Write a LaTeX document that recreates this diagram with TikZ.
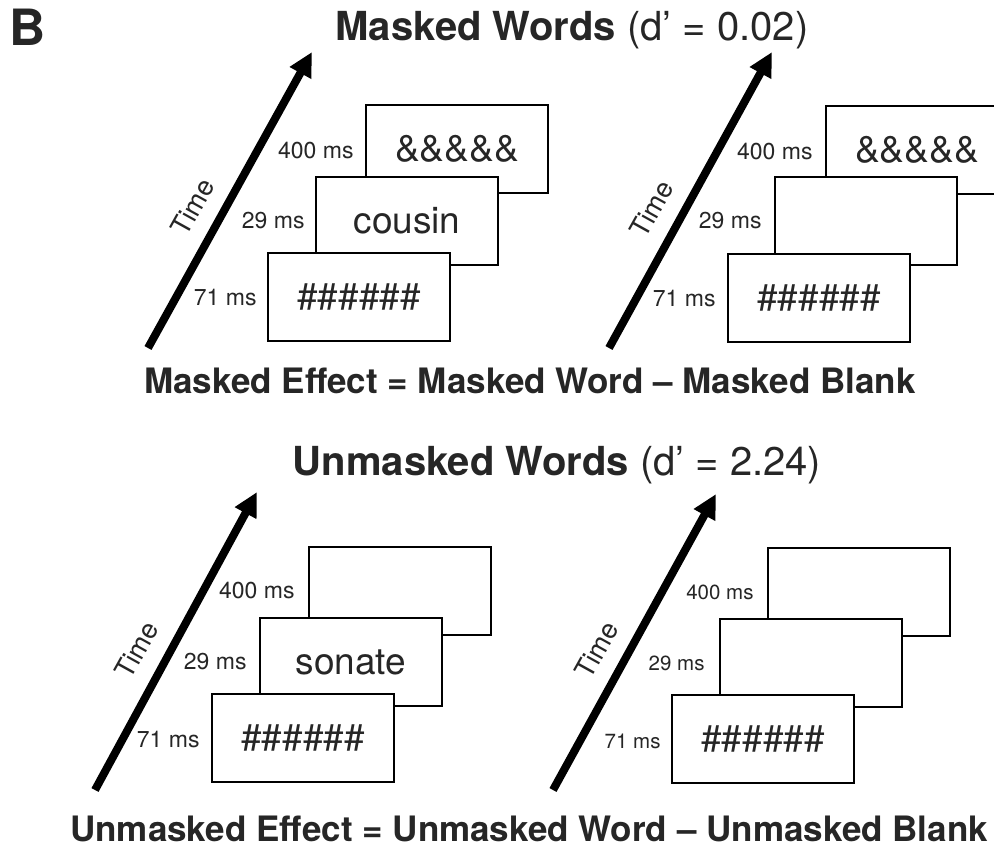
\documentclass[tikz,border=0pt]{standalone}
\usepackage{fontspec}
\setmainfont{TeX Gyre Heros}
\usetikzlibrary{arrows.meta}
\definecolor{txt}{HTML}{262626}
\begin{document}
\begin{tikzpicture}[x=1pt,y=-1pt,
  frame/.style={draw=black, fill=white, line width=2.6pt, minimum width=182pt, minimum height=88pt, inner sep=0pt, font=\fontsize{37}{40}\selectfont, text=txt},
  dur/.style={anchor=east, font=\fontsize{23}{26}\selectfont, text=txt, inner sep=0pt},
  durs/.style={dur, font=\fontsize{20.5}{23}\selectfont},
  timearrow/.style={line width=8pt, -{Triangle[length=24pt,width=23pt]}},
  timelbl/.style={rotate=61, font=\fontsize{27}{30}\selectfont, text=txt, inner sep=0pt},
  heading/.style={anchor=base, font=\fontsize{40}{48}\selectfont, text=txt, inner sep=0pt},
  effect/.style={anchor=base, font=\bfseries\fontsize{35}{42}\selectfont, text=txt, inner sep=0pt}]
\clip (0,0) rectangle (994,848);
\fill[white] (0,0) rectangle (994,848);

% panel letter and headings
\node[anchor=base west, font=\bfseries\fontsize{50}{56}\selectfont, text=txt, inner sep=0pt] (B) at (9,46) {B};
\node[heading] (t1) at (572,41) {\textbf{Masked Words} (d’ = 0.02)};
\node[effect] (e1) at (530,393) {Masked Effect = Masked Word – Masked Blank};
\node[heading] (t2) at (557,475) {\textbf{Unmasked Words} (d’ = 2.24)};
\node[effect] (e2) at (529,841) {Unmasked Effect = Unmasked Word – Unmasked Blank};

% ---------- top left ----------
\coordinate (s1) at (148,348); \coordinate (f1) at (312,52);
\draw[timearrow] (s1) -- (f1);
\node[timelbl] (tm1) at (193,207) {Time};
\node[frame] (a1) at (457,149) {\&\&\&\&\&};
\node[frame] (b1) at (407,221) {cousin};
\node[frame] (c1) at (359,297) {\#\#\#\#\#\#};
\node[dur] (la1) at ([xshift=-11pt,yshift=-2pt]a1.west) {400 ms};
\node[dur] (lb1) at ([xshift=-10pt]b1.west) {29 ms};
\node[dur] (lc1) at ([xshift=-10pt,yshift=-1pt]c1.west) {71 ms};

% ---------- top right ----------
\coordinate (s2) at (609,348); \coordinate (f2) at (772,52);
\draw[timearrow] (s2) -- (f2);
\node[timelbl] (tm2) at (652,209) {Time};
\node[frame] (a2) at (917,150) {\&\&\&\&\&};
\node[frame] (b2) at (866,221) {};
\node[frame] (c2) at (819,298) {\#\#\#\#\#\#};
\node[dur] (la2) at ([xshift=-12pt,yshift=-2pt]a2.west) {400 ms};
\node[dur] (lb2) at ([xshift=-12pt]b2.west) {29 ms};
\node[dur] (lc2) at ([xshift=-11pt,yshift=-1pt]c2.west) {71 ms};

% ---------- bottom left ----------
\coordinate (s3) at (95,790); \coordinate (f3) at (257,492);
\draw[timearrow] (s3) -- (f3);
\node[timelbl] (tm3) at (137,650) {Time};
\node[frame] (a3) at (400,591) {};
\node[frame] (b3) at (351,662) {sonate};
\node[frame] (c3) at (303,738) {\#\#\#\#\#\#};
\node[dur] (la3) at ([xshift=-13pt]a3.west) {400 ms};
\node[dur] (lb3) at ([xshift=-12pt]b3.west) {29 ms};
\node[dur] (lc3) at ([xshift=-11pt,yshift=-2pt]c3.west) {71 ms};

% ---------- bottom right ----------
\coordinate (s4) at (553,790); \coordinate (f4) at (716,494);
\draw[timearrow] (s4) -- (f4);
\node[timelbl] (tm4) at (597,650) {Time};
\node[frame] (a4) at (859,592) {};
\node[frame] (b4) at (811,663) {};
\node[frame] (c4) at (763,739) {\#\#\#\#\#\#};
\node[durs] (la4) at ([xshift=-13pt]a4.west) {400 ms};
\node[durs] (lb4) at ([xshift=-14pt]b4.west) {29 ms};
\node[durs] (lc4) at ([xshift=-10pt,yshift=-2pt]c4.west) {71 ms};
\end{tikzpicture}
\end{document}
